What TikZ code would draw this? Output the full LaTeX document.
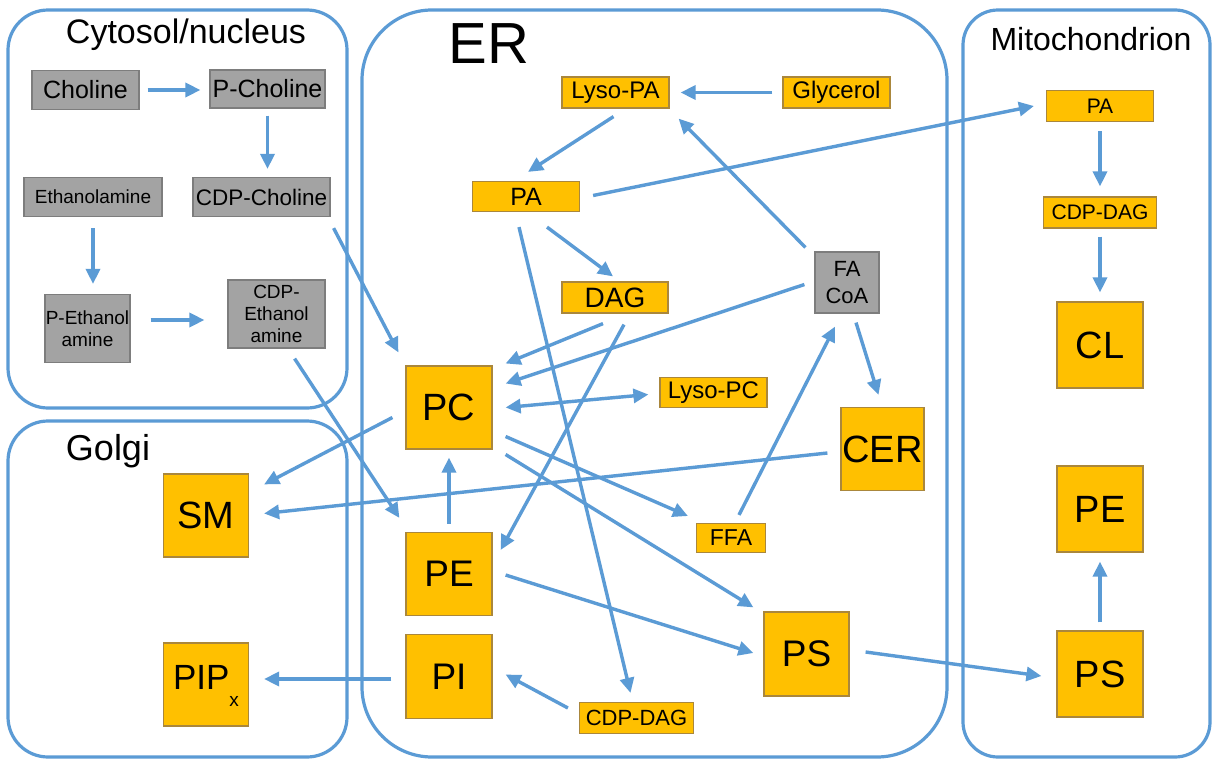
\documentclass[tikz,border=0pt]{standalone}
\usepackage{fontspec}
\setmainfont{Liberation Sans}
\usetikzlibrary{arrows.meta,calc}
\definecolor{lblue}{RGB}{91,155,213}
\definecolor{orng}{RGB}{255,192,0}
\definecolor{orngb}{RGB}{170,135,60}
\definecolor{gbox}{RGB}{163,163,163}
\definecolor{gboxb}{RGB}{125,125,125}
\newcommand{\fsl}[2]{\fontsize{#1}{#2}\selectfont}
\begin{document}
\begin{tikzpicture}[x=1pt,y=-1pt,
  comp/.style={draw=lblue, line width=3.2pt, rounded corners=#1},
  obox/.style={draw=orngb, fill=orng, line width=1.2pt, inner sep=0pt, align=center},
  gbx/.style={draw=gboxb, fill=gbox, line width=1.2pt, inner sep=0pt, align=center},
  arr/.style={draw=lblue, line width=3.4pt, -{Triangle[length=15pt,width=14pt]}},
  darr/.style={draw=lblue, line width=3.4pt, {Triangle[length=15pt,width=14pt]}-{Triangle[length=15pt,width=14pt]}},
  ttl/.style={anchor=base, inner sep=0pt}
  ]
\fill[white] (0,0) rectangle (1216,763);
\useasboundingbox (0,0) rectangle (1216,763);

% compartments
\draw[comp=40pt] (8,10) rectangle (347,408);
\draw[comp=40pt] (8,421) rectangle (347,757);
\draw[comp=70pt] (362,10) rectangle (947,757);
\draw[comp=35pt] (963,10) rectangle (1210,757);

\node[ttl, font=\fsl{34}{34}] (tcyt) at (186,43) {Cytosol/nucleus};
\node[ttl, font=\fsl{36}{36}] (tgolgi) at (108,460) {Golgi};
\node[ttl, font=\fsl{58}{58}] (ter) at (489,63) {ER};
\node[ttl, font=\fsl{32}{32}] (tmito) at (1091,50) {Mitochondrion};

% cytosol nodes
\node[gbx, minimum width=107pt, minimum height=39pt, font=\fsl{25}{25}] (choline) at (85.5,90) {Choline};
\node[gbx, minimum width=115pt, minimum height=38pt, font=\fsl{25}{25}] (pcholine) at (267.5,89) {P-Choline};
\node[gbx, minimum width=137pt, minimum height=39pt, font=\fsl{22.5}{22.5}] (cdpcholine) at (261.5,197) {CDP-Choline};
\node[gbx, minimum width=138pt, minimum height=39pt, font=\fsl{19}{19}] (ethanolamine) at (93,197) {Ethanolamine};
\node[gbx, minimum width=85pt, minimum height=68pt, font=\fsl{19}{22}] (pethanol) at (87.5,328.5) {P-Ethanol\\amine};
\node[gbx, minimum width=97pt, minimum height=68pt, font=\fsl{19}{22}] (cdpethanol) at (276.5,314) {CDP-\\Ethanol\\amine};

% ER nodes
\node[obox, minimum width=107pt, minimum height=31pt, font=\fsl{24}{24}] (lysopa) at (615.5,92.5) {Lyso-PA};
\node[obox, minimum width=107pt, minimum height=31pt, font=\fsl{24}{24}] (glycerol) at (836.5,92.5) {Glycerol};
\node[obox, minimum width=107pt, minimum height=30pt, font=\fsl{25}{25}] (pa) at (526,196.5) {PA};
\node[obox, minimum width=106pt, minimum height=31pt, font=\fsl{28}{28}] (dag) at (615,297.5) {DAG};
\node[gbx, minimum width=64pt, minimum height=61pt, font=\fsl{22}{27}] (facoa) at (847,282.5) {FA\\CoA};
\node[obox, minimum width=86pt, minimum height=83pt, font=\fsl{38}{38}] (pc) at (449,407.5) {PC};
\node[obox, minimum width=107pt, minimum height=30pt, font=\fsl{24}{24}] (lysopc) at (713.5,392.5) {Lyso-PC};
\node[obox, minimum width=83pt, minimum height=83pt, font=\fsl{38}{38}] (cer) at (882.5,449) {CER};
\node[obox, minimum width=69pt, minimum height=29pt, font=\fsl{23}{23}] (ffa) at (731,538) {FFA};
\node[obox, minimum width=86pt, minimum height=83pt, font=\fsl{37}{37}] (pe) at (449,574) {PE};
\node[obox, minimum width=85pt, minimum height=84pt, font=\fsl{37}{37}] (ps) at (806.5,654) {PS};
\node[obox, minimum width=86pt, minimum height=84pt, font=\fsl{37}{37}] (pi) at (449,676.5) {PI};
\node[obox, minimum width=114pt, minimum height=31pt, font=\fsl{22}{22}] (cdpdag) at (636.5,718) {CDP-DAG};

% Golgi nodes
\node[obox, minimum width=85pt, minimum height=83pt, font=\fsl{38}{38}] (sm) at (206,515.5) {SM};
\node[obox, minimum width=85pt, minimum height=83pt, font=\fsl{35}{35}, text depth=14pt] (pipx) at (206,684.5) {PIP\smash{\raisebox{-17pt}{\fsl{19}{19}x}}};

% Mitochondrion nodes
\node[obox, minimum width=107pt, minimum height=31pt, font=\fsl{21}{21}] (mitopa) at (1100,106) {PA};
\node[obox, minimum width=113pt, minimum height=31pt, font=\fsl{21}{21}] (mitocdp) at (1100,212.5) {CDP-DAG};
\node[obox, minimum width=86pt, minimum height=86pt, font=\fsl{38}{38}] (cl) at (1100,345) {CL};
\node[obox, minimum width=86pt, minimum height=86pt, font=\fsl{38}{38}] (mitope) at (1100,509) {PE};
\node[obox, minimum width=86pt, minimum height=86pt, font=\fsl{38}{38}] (mitops) at (1100,674) {PS};

% connectors
\draw[arr] ($(choline.east)+(8,0)$) -- ($(pcholine.west)+(-9,1)$);
\draw[arr] ($(pcholine.south)+(0,7)$) -- ($(cdpcholine.north)+(6,-8)$);
\draw[arr] ($(ethanolamine.south)+(0,11)$) -- ($(pethanol.north)+(5.5,-10)$);
\draw[arr] ($(pethanol.east)+(20,-8.5)$) -- ($(cdpethanol.west)+(-23,6)$);
\draw[arr] ($(cdpcholine.south east)+(3,11)$) -- ($(pc.north west)+(-7,-13)$);
\draw[arr] ($(cdpethanol.south east)+(-31,10)$) -- ($(pe.north west)+(-6,-14)$);
\draw[arr] ($(glycerol.west)+(-10,0)$) -- ($(lysopa.east)+(11,0)$);
\draw[arr] ($(lysopa.south)+(-2,8)$) -- ($(pa.north)+(2,-9)$);
\draw[arr] ($(pa.east)+(13,-1)$) -- ($(mitopa.west)+(-12,0)$);
\draw[arr] ($(facoa.north west)+(-9,-4)$) -- ($(lysopa.south east)+(9,10)$);
\draw[arr] ($(pa.south)+(21,15)$) -- ($(dag.north)+(-2,-5)$);
\draw[arr] ($(pa.south)+(-7,15)$) -- ($(cdpdag.north)+(-6,-9)$);
\draw[arr] ($(dag.south)+(-12,10)$) -- ($(pc.east)+(13,-44)$);
\draw[arr] ($(facoa.west)+(-10,2)$) -- ($(pc.east)+(13,-24)$);
\draw[arr] ($(dag.south)+(9,11)$) -- ($(pe.east)+(8,-24)$);
\draw[darr] ($(pc.east)+(13,0)$) -- ($(lysopc.west)+(-11,2)$);
\draw[arr] ($(facoa.south)+(9,9)$) -- ($(cer.north)+(-4,-12)$);
\draw[arr] ($(ffa.north)+(8,-8)$) -- ($(facoa.south)+(-12,13)$);
\draw[arr] ($(pc.east)+(13,29)$) -- ($(ffa.west)+(-8,-22)$);
\draw[arr] ($(pc.east)+(13,47)$) -- ($(ps.north west)+(-10,-4)$);
\draw[arr] ($(pc.west)+(-13,10)$) -- ($(sm.north east)+(15,11)$);
\draw[arr] ($(cer.west)+(-13,4)$) -- ($(sm.east)+(15,-2)$);
\draw[arr] ($(pe.north)+(0,-8)$) -- ($(pc.south)+(0,8)$);
\draw[arr] ($(pe.east)+(13,1)$) -- ($(ps.west)+(-10,-1)$);
\draw[arr] ($(pi.west)+(-14,2.5)$) -- ($(pipx.east)+(15,-5.5)$);
\draw[arr] ($(cdpdag.west)+(-11,-10)$) -- ($(pi.east)+(13,-2)$);
\draw[arr] ($(ps.east)+(16,-2)$) -- ($(mitops.west)+(-15,2)$);
\draw[arr] ($(mitopa.south)+(0,9)$) -- ($(mitocdp.north)+(0,-10)$);
\draw[arr] ($(mitocdp.south)+(0,8)$) -- ($(cl.north)+(0,-9)$);
\draw[arr] ($(mitops.north)+(0,-8)$) -- ($(mitope.south)+(0,9)$);
\end{tikzpicture}
\end{document}
